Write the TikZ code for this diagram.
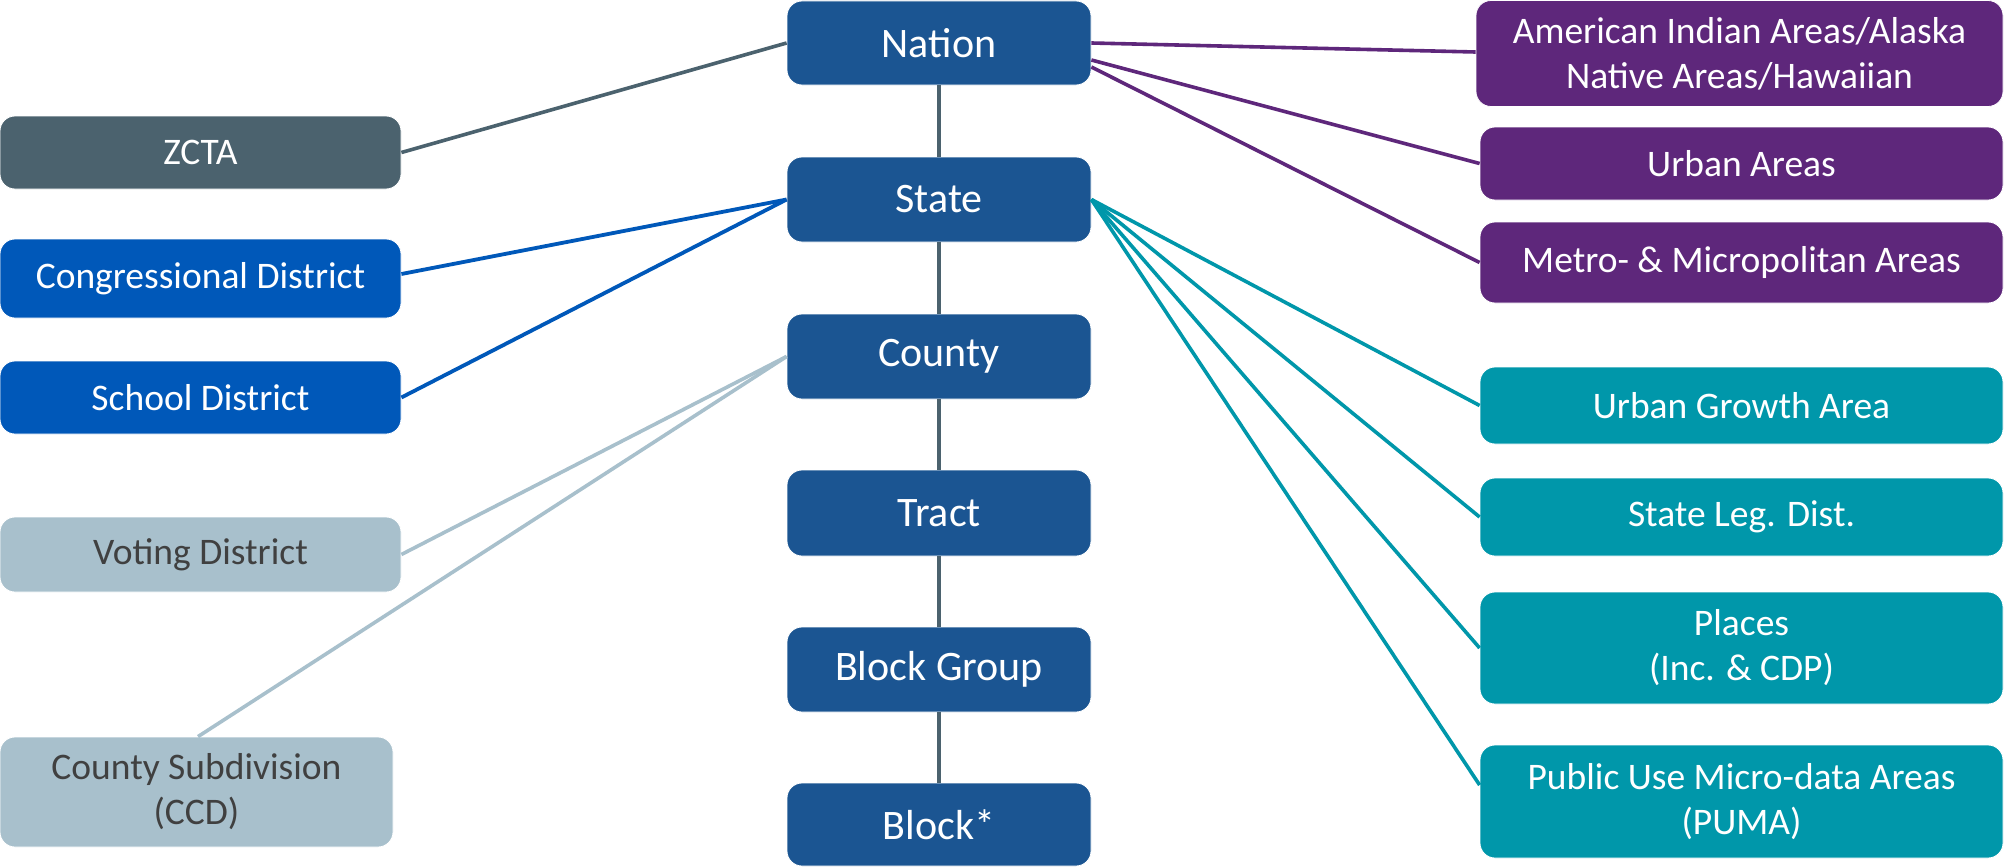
\documentclass[tikz,border=0pt]{standalone}
\usepackage{fontspec}
\setmainfont{Carlito}
\definecolor{cblue}{HTML}{1B5592}
\definecolor{zslate}{HTML}{4B626E}
\definecolor{rblue}{HTML}{0058B9}
\definecolor{lgray}{HTML}{A8C0CC}
\definecolor{tgray}{HTML}{404040}
\definecolor{purp}{HTML}{5E277B}
\definecolor{teal}{HTML}{0097AA}
\tikzset{
  basebox/.style={rectangle, rounded corners=15pt, inner sep=0pt, align=center, text=white, draw=white, line width=0.8pt},
  centerbox/.style={basebox, fill=cblue, minimum width=304pt, font=\fontsize{42}{49}\selectfont},
  sidebox/.style={basebox, font=\fontsize{37.5}{45}\selectfont},
  zbox/.style={sidebox, fill=zslate, minimum width=401pt},
  bbox/.style={sidebox, fill=rblue, minimum width=401pt},
  lbox/.style={sidebox, fill=lgray, text=tgray},
  pbox/.style={sidebox, fill=purp, minimum width=523pt},
  tbox/.style={sidebox, fill=teal, minimum width=523pt},
  vline/.style={draw=zslate, line width=3.2pt},
  zline/.style={draw=zslate, line width=3.6pt},
  bline/.style={draw=rblue, line width=3.8pt},
  lline/.style={draw=lgray, line width=3.6pt},
  pline/.style={draw=purp, line width=3.6pt},
  tline/.style={draw=teal, line width=3.6pt}
}
\begin{document}
\begin{tikzpicture}[x=1pt,y=-1pt]
\useasboundingbox (0,0) rectangle (2005,867);
\fill[white] (0,0) rectangle (2005,867);
% center column
\node[centerbox, minimum height=84pt] (nation) at (939,43) {Nation};
\node[centerbox, minimum height=85pt] (state) at (939,199.5) {State};
\node[centerbox, minimum height=85pt] (county) at (939,356.5) {County};
\node[centerbox, minimum height=86pt] (tract) at (939,513) {Tract};
\node[centerbox, minimum height=85pt] (bgroup) at (939,669.5) {Block Group};
\node[centerbox, minimum height=83pt] (block) at (939,824.5) {Block*};
% left column
\node[zbox, minimum height=73pt] (zcta) at (200.5,152.5) {ZCTA};
\node[bbox, minimum height=79pt] (cong) at (200.5,278.5) {Congressional District};
\node[bbox, minimum height=73pt] (school) at (200.5,397.5) {School District};
\node[lbox, minimum width=401pt, minimum height=75pt] (voting) at (200.5,554.5) {Voting District};
\node[lbox, minimum width=393pt, minimum height=110pt] (ccd) at (196.5,792) {County Subdivision\\(CCD)};
% right column
\node[pbox, minimum width=527pt, minimum height=106pt] (amind) at (1739.5,53.5) {American Indian Areas/Alaska\\Native Areas/Hawaiian};
\node[pbox, minimum height=73pt] (urban) at (1741.5,163.5) {Urban Areas};
\node[pbox, minimum height=81pt] (metro) at (1741.5,262.5) {Metro- \& Micropolitan Areas};
\node[tbox, minimum height=77pt] (ugrowth) at (1741.5,405.5) {Urban Growth Area};
\node[tbox, minimum height=78pt] (stateleg) at (1741.5,517) {State Leg. Dist.};
\node[tbox, minimum height=112pt] (places) at (1741.5,648) {Places\\(Inc. \& CDP)};
\node[tbox, minimum height=113pt] (puma) at (1741.5,801.5) {Public Use Micro-data Areas\\(PUMA)};
% vertical chain
\draw[vline] (nation.south) -- (state.north);
\draw[vline] (state.south) -- (county.north);
\draw[vline] (county.south) -- (tract.north);
\draw[vline] (tract.south) -- (bgroup.north);
\draw[vline] (bgroup.south) -- (block.north);
% left connectors
\draw[zline] (zcta.east) -- (nation.west);
\draw[bline] ([yshift=4.5pt]cong.east) -- (state.west);
\draw[bline] (school.east) -- (state.west);
\draw[lline] (voting.east) -- (county.west);
\draw[lline] ([xshift=1.5pt]ccd.north) -- (county.west);
% right connectors
\draw[pline] (nation.east) -- ([yshift=1.5pt]amind.west);
\draw[pline] ([yshift=-17pt]nation.east) -- (urban.west);
\draw[pline] ([yshift=-24pt]nation.east) -- (metro.west);
\draw[tline] (state.east) -- (ugrowth.west);
\draw[tline] (state.east) -- (stateleg.west);
\draw[tline] (state.east) -- (places.west);
\draw[tline] (state.east) -- ([yshift=16.5pt]puma.west);
\end{tikzpicture}
\end{document}
